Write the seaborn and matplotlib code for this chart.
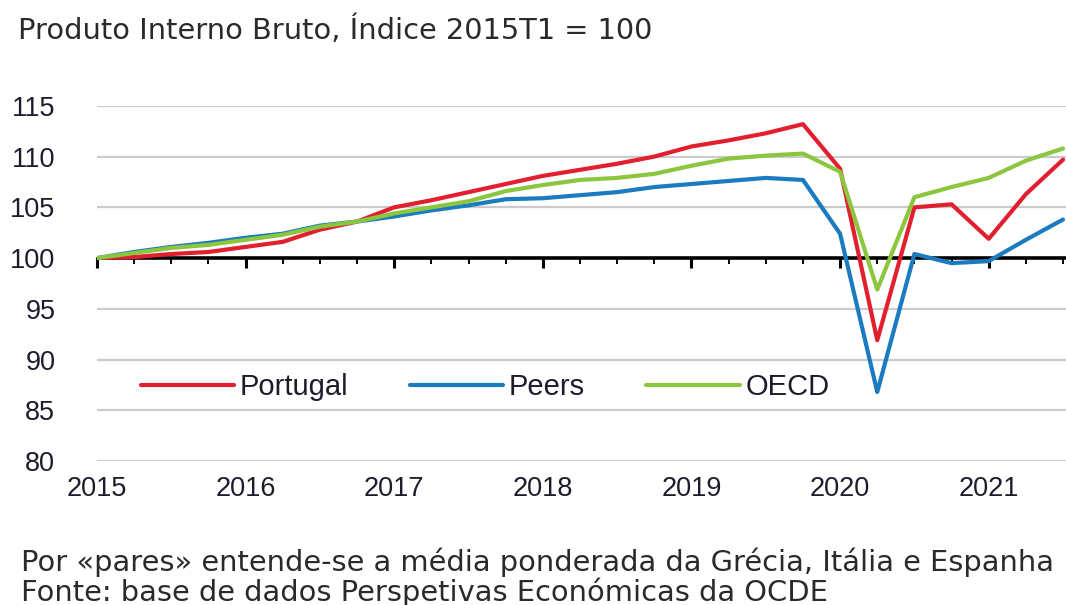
import pandas as pd
import numpy as np
import matplotlib.pyplot as plt
import seaborn as sns
from matplotlib.ticker import MultipleLocator, NullFormatter

# Quarterly GDP index, 2015T1 = 100
quarters = [f"{y}T{q}" for y in range(2015, 2022) for q in range(1, 5)][:27]

portugal = [100.0, 100.1, 100.4, 100.6, 101.1, 101.6, 102.8, 103.6, 105.0, 105.7,
            106.5, 107.3, 108.1, 108.7, 109.3, 110.0, 111.0, 111.6, 112.3, 113.2,
            108.8, 91.9, 105.0, 105.3, 101.9, 106.3, 109.7]
peers = [100.0, 100.6, 101.1, 101.5, 102.0, 102.4, 103.2, 103.6, 104.1, 104.7,
         105.2, 105.8, 105.9, 106.2, 106.5, 107.0, 107.3, 107.6, 107.9, 107.7,
         102.4, 86.8, 100.4, 99.5, 99.7, 101.8, 103.8]
oecd = [100.0, 100.5, 101.0, 101.3, 101.8, 102.3, 103.1, 103.6, 104.4, 105.0,
        105.6, 106.6, 107.2, 107.7, 107.9, 108.3, 109.1, 109.8, 110.1, 110.3,
        108.5, 96.9, 106.0, 107.0, 107.9, 109.6, 110.8]

series_names = ["Portugal", "Peers", "OECD"]
colors = ["#e21f2f", "#1b7bc0", "#8cc63f"]
years = [2015, 2016, 2017, 2018, 2019, 2020, 2021]

# long format for seaborn
t = [int(s[:4]) + (int(s[-1]) - 1) / 4 for s in quarters]
df = pd.DataFrame({
    "t": t * 3,
    "valor": portugal + peers + oecd,
    "serie": np.repeat(series_names, len(t)),
})

sns.set_theme(style="white")
plt.rcParams["font.family"] = ["Liberation Sans", "DejaVu Sans"]

fig = plt.figure(figsize=(10.66, 6.05), dpi=100)
ax = fig.add_axes([0.091, 0.238, 0.909, 0.587])

# horizontal grid, black line at 100
for v in range(80, 120, 5):
    if v != 100:
        ax.axhline(v, color="#cbcbcb", lw=1.6, zorder=0)
ax.axhline(100, color="black", lw=2.6, zorder=1)

sns.lineplot(data=df, x="t", y="valor", hue="serie", hue_order=series_names,
             palette=colors, linewidth=3.0, ax=ax, legend=True, zorder=3)

ax.set_xlim(2015, 2021.52)
ax.set_ylim(80, 115)
ax.set_xlabel("")
ax.set_ylabel("")
ax.set_xticks(years)
ax.set_xticklabels([str(y) for y in years])
ax.yaxis.set_major_locator(MultipleLocator(5))
ax.tick_params(axis="both", length=0, labelsize=19.5, colors="#1c1c2c")
ax.tick_params(axis="x", pad=11)
ax.tick_params(axis="y", pad=30)
for s in ax.spines.values():
    s.set_visible(False)

# quarterly tick marks on the 100 line
base = ax.secondary_xaxis(20 / 35)
base.spines["bottom"].set_visible(False)
base.set_xticks(years)
base.xaxis.set_minor_locator(MultipleLocator(0.25))
base.xaxis.set_major_formatter(NullFormatter())
base.xaxis.set_minor_formatter(NullFormatter())
base.tick_params(axis="x", which="major", direction="in", length=7, width=2.2,
                 color="black")
base.tick_params(axis="x", which="minor", direction="in", length=4, width=1.4,
                 color="black")

leg = ax.legend(loc="center left", bbox_to_anchor=(0.045, 0.208), ncol=3,
                frameon=False, fontsize=21, handlelength=3.2, handletextpad=0.2,
                columnspacing=2.1, borderpad=0, borderaxespad=0)
for txt in leg.get_texts():
    txt.set_color("#1c1c2c")

note_font = dict(fontsize=20.8, family="DejaVu Sans", color="#2a2a2a",
                 va="center", ha="left")
fig.text(0.017, 0.95, "Produto Interno Bruto, Índice 2015T1 = 100", **note_font)
fig.text(0.02, 0.071, "Por «pares» entende-se a média ponderada da Grécia, Itália e Espanha",
         **note_font)
fig.text(0.02, 0.021, "Fonte: base de dados Perspetivas Económicas da OCDE", **note_font)

fig.savefig("out.png", dpi=100)
plt.close(fig)
